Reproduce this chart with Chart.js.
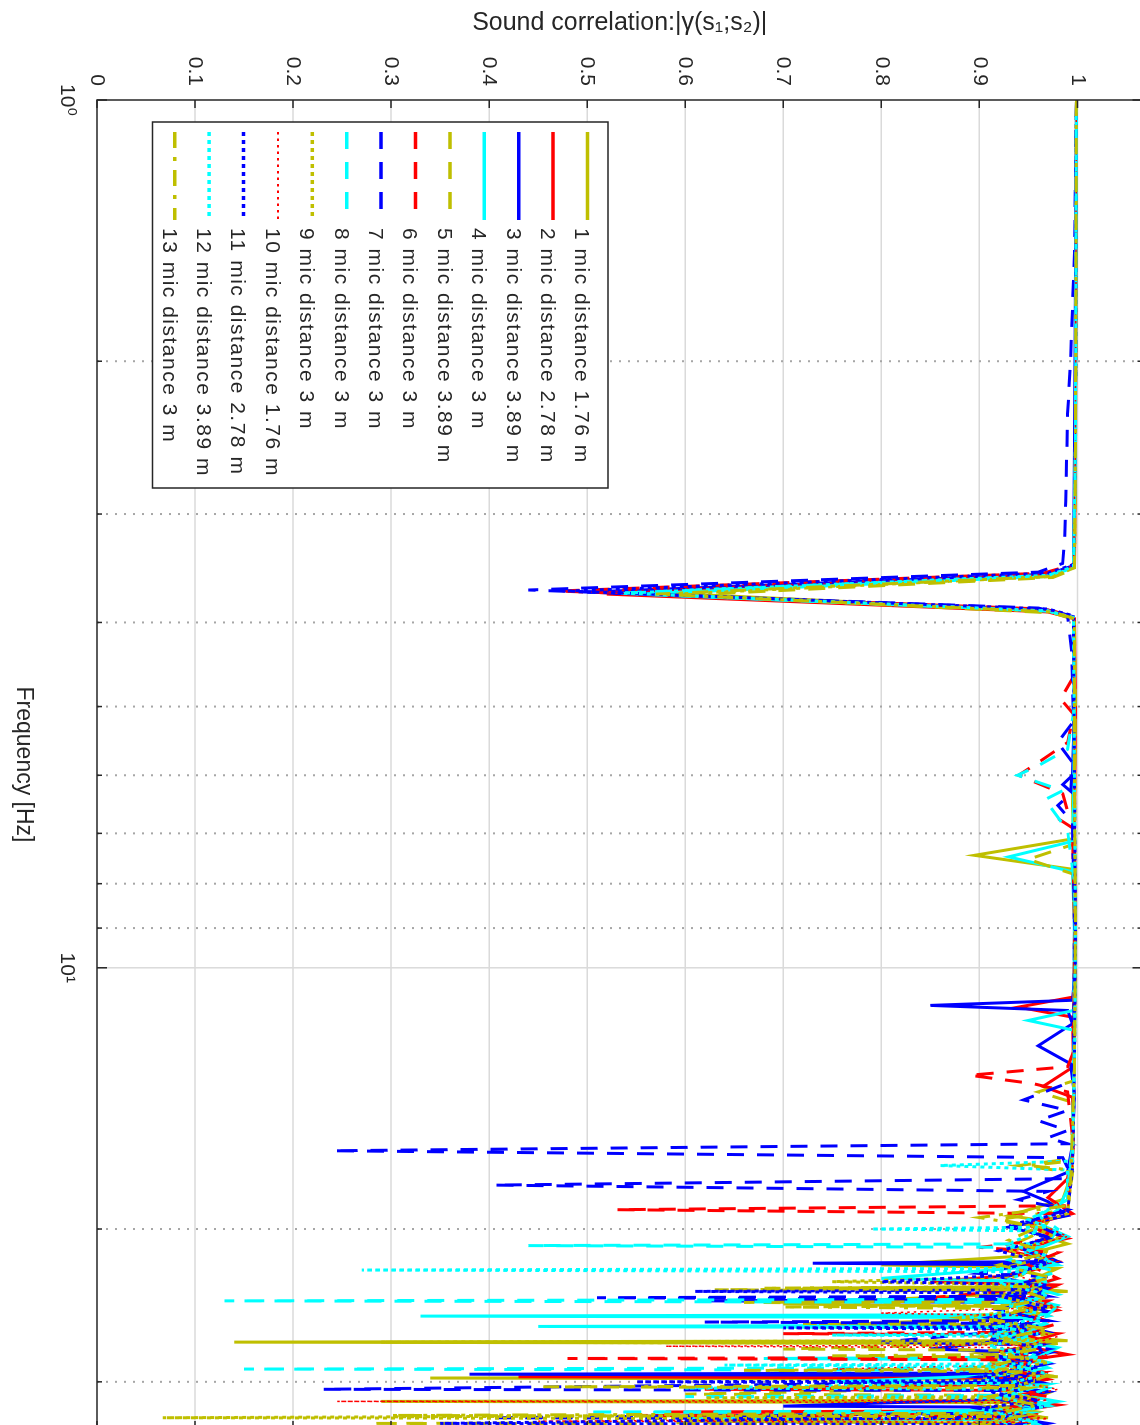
<!DOCTYPE html>
<html>
<head>
<meta charset="utf-8">
<title>Sound correlation</title>
<script src="https://cdn.jsdelivr.net/npm/chart.js@4.4.0/dist/chart.umd.min.js"></script>
<style>
    html, body { margin: 0; padding: 0; background: #fff; overflow: hidden; width: 1140px; height: 1425px; }
    /* the plot is drawn the MATLAB way (frequency across) and turned a quarter clockwise */
    #wrap { position: absolute; left: 0; top: 0; width: 1447px; height: 1169px;
            transform-origin: 0 0; transform: translate(1169px, 0) rotate(90deg); }
</style>
</head>
<body>
<div id="wrap"><canvas id="corrChart" width="1447" height="1169"></canvas></div>
<script>
// Axis ranges and ticks
const freqMin = 1;
const freqMax = 34;
const corrMin = 0;
const corrMax = 1.0663;
const freqMajor = [1, 10];
const freqMinor = [2, 3, 4, 5, 6, 7, 8, 9, 20, 30];
const corrGrid = [0.1, 0.2, 0.3, 0.4, 0.5, 0.6, 0.7, 0.8, 0.9, 1];
const corrTicks = [0, 0.1, 0.2, 0.3, 0.4, 0.5, 0.6, 0.7, 0.8, 0.9, 1];

const seriesLabels = [
    '1 mic distance 1.76 m',
    '2 mic distance 2.78 m',
    '3 mic distance 3.89 m',
    '4 mic distance 3 m',
    '5 mic distance 3.89 m',
    '6 mic distance 3 m',
    '7 mic distance 3 m',
    '8 mic distance 3 m',
    '9 mic distance 3 m',
    '10 mic distance 1.76 m',
    '11 mic distance 2.78 m',
    '12 mic distance 3.89 m',
    '13 mic distance 3 m'
];

// [frequency Hz, |gamma|]
const series1 = [[1,0.999],[2,0.998],[3,0.997],[3.45,0.996],[3.52,0.97],[3.70,0.58],[3.88,0.97],[3.95,0.996],[4.5,0.997],[5.5,0.996],[6.5,0.995],[7.1,0.996],[7.42,0.895],[7.7,0.995],[8.5,0.997],[10,0.998],[12,0.997],[14,0.996],[16,0.995],[17.8,0.99],[18.5,0.985],[19.3,0.93],[19.6,0.97],[20.3,0.96],[20.8,0.99],[21.5,0.94],[22.0,0.80],[22.2,0.98],[23.0,0.95],[23.3,0.97],[23.4,0.72],[23.5,0.97],[23.6,0.99],[24.4,0.70],[24.6,0.97],[25.3,0.93],[25.8,0.75],[26.0,0.96],[26.5,0.92],[26.9,0.99],[27.0,0.14],[27.1,0.98],[27.8,0.9],[28.4,0.96],[29.0,0.88],[29.6,0.98],[29.7,0.34],[29.8,0.97],[30.3,0.92],[30.9,0.97],[31.5,0.95],[31.6,0.29],[31.7,0.96],[32.4,0.9],[33.0,0.97],[33.3,0.6],[33.5,0.95],[34,0.93]];
const series2 = [[1,0.999],[2.5,0.998],[3.45,0.997],[3.53,0.97],[3.71,0.52],[3.89,0.97],[3.96,0.997],[5,0.998],[7,0.997],[9,0.998],[10.8,0.997],[11.1,0.94],[11.4,0.995],[13,0.996],[13.7,0.965],[14.1,0.995],[16,0.996],[17.5,0.99],[18.4,0.97],[19.2,0.995],[19.8,0.95],[20.5,0.99],[21.2,0.93],[21.8,0.98],[22.6,0.94],[23.0,0.85],[23.2,0.98],[24.0,0.95],[24.8,0.98],[25.5,0.92],[26.0,0.90],[26.4,0.98],[27.2,0.94],[27.9,0.99],[28.6,0.92],[29.3,0.97],[29.6,0.43],[29.7,0.96],[30.2,0.94],[30.6,0.62],[30.7,0.97],[31.3,0.92],[31.9,0.98],[32.4,0.94],[32.5,0.58],[32.6,0.96],[33.2,0.9],[34,0.97]];
const series3 = [[1,0.999],[2.5,0.997],[3.44,0.996],[3.52,0.97],[3.69,0.50],[3.87,0.97],[3.94,0.996],[5,0.997],[6.0,0.995],[6.15,0.985],[6.3,0.996],[8,0.997],[10,0.998],[10.9,0.995],[11.05,0.85],[11.2,0.99],[11.6,0.995],[12.3,0.96],[12.9,0.993],[14,0.997],[16,0.995],[17.2,0.99],[18.1,0.945],[18.6,0.97],[19.3,0.99],[19.9,0.93],[20.4,0.97],[21.0,0.95],[21.8,0.98],[21.9,0.73],[22.0,0.97],[22.7,0.92],[23.4,0.97],[24.1,0.95],[24.2,0.62],[24.3,0.94],[24.9,0.97],[25.6,0.93],[26.3,0.97],[27.0,0.91],[27.5,0.85],[27.8,0.97],[28.5,0.93],[29.3,0.96],[29.4,0.38],[29.5,0.95],[30.1,0.91],[30.8,0.97],[31.4,0.93],[32.0,0.70],[32.1,0.96],[32.8,0.92],[33.5,0.97],[34,0.94]];
const series4 = [[1,0.999],[2.5,0.998],[3.46,0.996],[3.54,0.97],[3.71,0.55],[3.88,0.97],[3.95,0.996],[5,0.997],[6.5,0.996],[7.15,0.995],[7.45,0.93],[7.75,0.995],[9,0.997],[11.2,0.996],[11.5,0.95],[11.8,0.996],[14,0.996],[16,0.995],[18,0.99],[19,0.98],[19.7,0.96],[20.4,0.99],[21.3,0.95],[22.0,0.98],[22.8,0.80],[23.0,0.97],[23.8,0.93],[24.5,0.98],[25.1,0.97],[25.2,0.33],[25.3,0.96],[25.8,0.97],[25.9,0.45],[26.0,0.96],[26.7,0.92],[27.4,0.98],[28.1,0.96],[28.2,0.68],[28.3,0.95],[28.9,0.97],[29.5,0.92],[30.0,0.75],[30.2,0.97],[30.9,0.93],[31.6,0.98],[32.3,0.92],[33.0,0.60],[33.2,0.95],[34,0.97]];
const series5 = [[1,0.999],[2.5,0.998],[3.47,0.997],[3.55,0.975],[3.72,0.60],[3.9,0.975],[3.97,0.997],[5,0.998],[7.2,0.997],[7.5,0.95],[7.8,0.996],[10,0.998],[13.5,0.996],[13.9,0.96],[14.3,0.996],[16.6,0.995],[16.9,0.94],[17.2,0.995],[19,0.99],[19.5,0.92],[20.0,0.97],[20.7,0.94],[21.4,0.98],[22.1,0.93],[22.8,0.97],[23.4,0.92],[23.5,0.63],[23.6,0.95],[24.2,0.95],[24.3,0.66],[24.4,0.93],[25.0,0.96],[25.6,0.94],[25.7,0.72],[25.8,0.93],[26.4,0.97],[27.1,0.92],[27.5,0.70],[27.6,0.96],[28.3,0.9],[29.0,0.96],[29.7,0.91],[30.4,0.97],[31.0,0.60],[31.1,0.95],[31.8,0.9],[32.5,0.96],[33.4,0.93],[33.5,0.28],[33.6,0.94],[34,0.96]];
const series6 = [[1,0.999],[2.5,0.998],[3.43,0.996],[3.51,0.965],[3.68,0.47],[3.86,0.965],[3.93,0.996],[4.6,0.997],[4.9,0.983],[5.1,0.996],[5.5,0.99],[5.75,0.965],[6.0,0.94],[6.3,0.985],[6.6,0.99],[6.75,0.982],[6.9,0.995],[9,0.997],[12.5,0.996],[13.0,0.99],[13.3,0.89],[13.6,0.955],[13.9,0.99],[16,0.996],[18.8,0.99],[19.0,0.53],[19.2,0.98],[19.8,0.95],[20.5,0.98],[21.0,0.90],[21.3,0.98],[22.0,0.95],[22.8,0.98],[23.5,0.94],[24.0,0.85],[24.2,0.97],[25.0,0.94],[25.7,0.98],[26.3,0.95],[26.4,0.70],[26.5,0.95],[27.1,0.97],[27.7,0.92],[28.1,0.97],[28.2,0.48],[28.3,0.96],[29.0,0.93],[29.8,0.97],[30.5,0.92],[31.2,0.97],[31.9,0.93],[32.7,0.96],[32.8,0.55],[32.9,0.95],[33.6,0.92],[34,0.97]];
const series7 = [[1,0.999],[1.5,0.997],[2.0,0.993],[2.3,0.99],[2.6,0.989],[2.9,0.988],[3.2,0.987],[3.42,0.985],[3.50,0.96],[3.67,0.44],[3.85,0.96],[3.92,0.99],[4.3,0.994],[5.2,0.996],[5.5,0.98],[5.8,0.995],[6.3,0.993],[6.5,0.98],[6.8,0.995],[9,0.997],[13.5,0.996],[14.2,0.945],[14.6,0.99],[15.0,0.96],[15.4,0.99],[15.7,0.97],[15.95,0.99],[16.25,0.24],[16.55,0.985],[17.0,0.99],[17.5,0.985],[17.8,0.405],[18.1,0.97],[18.5,0.94],[19.0,0.99],[19.6,0.95],[20.3,0.98],[21.0,0.94],[21.7,0.97],[22.5,0.90],[22.7,0.97],[23.3,0.93],[23.9,0.97],[24.0,0.51],[24.1,0.96],[24.8,0.92],[25.5,0.97],[25.6,0.62],[25.7,0.95],[26.2,0.93],[27.0,0.80],[27.2,0.96],[27.9,0.91],[28.6,0.97],[29.3,0.92],[30.0,0.96],[30.6,0.23],[30.7,0.95],[31.3,0.91],[32.0,0.96],[32.6,0.92],[33.0,0.40],[33.1,0.95],[34,0.93]];
const series8 = [[1,0.999],[2.5,0.998],[3.45,0.996],[3.53,0.97],[3.70,0.53],[3.88,0.97],[3.95,0.996],[5,0.997],[5.6,0.99],[5.85,0.96],[6.0,0.939],[6.25,0.985],[6.4,0.967],[6.95,0.99],[8,0.997],[10,0.998],[14,0.996],[17,0.994],[18.5,0.99],[19.3,0.96],[20.0,0.98],[20.8,0.97],[20.9,0.44],[21.0,0.96],[21.7,0.93],[22.4,0.98],[23.1,0.94],[23.8,0.98],[24.1,0.96],[24.2,0.13],[24.3,0.95],[25.0,0.92],[25.7,0.97],[26.4,0.91],[27.1,0.97],[27.8,0.93],[28.5,0.97],[28.9,0.95],[29.0,0.15],[29.1,0.94],[29.8,0.91],[30.5,0.97],[31.1,0.95],[31.2,0.60],[31.3,0.95],[31.9,0.97],[32.4,0.94],[32.5,0.50],[32.6,0.95],[33.3,0.91],[34,0.97]];
const series9 = [[1,0.999],[2.5,0.998],[3.46,0.997],[3.54,0.975],[3.71,0.59],[3.89,0.975],[3.96,0.997],[6,0.997],[9,0.998],[13,0.997],[17,0.995],[19.2,0.99],[19.8,0.95],[20.5,0.98],[21.2,0.93],[21.9,0.97],[22.7,0.94],[23.0,0.75],[23.2,0.96],[23.9,0.92],[24.6,0.97],[25.3,0.88],[26.0,0.96],[26.6,0.9],[26.9,0.97],[27.0,0.29],[27.1,0.96],[27.8,0.92],[28.5,0.97],[29.2,0.91],[29.9,0.96],[30.6,0.92],[31.2,0.95],[31.3,0.62],[31.4,0.95],[32.0,0.91],[32.7,0.95],[33.0,0.067],[33.1,0.94],[33.7,0.9],[34,0.95]];
const series10 = [[1,0.999],[2.5,0.998],[3.44,0.996],[3.52,0.97],[3.69,0.50],[3.87,0.97],[3.94,0.996],[6,0.997],[9,0.998],[13,0.997],[17,0.995],[19,0.99],[19.7,0.96],[20.4,0.99],[21.1,0.94],[21.8,0.98],[22.5,0.93],[23.2,0.97],[23.9,0.94],[24.6,0.98],[25.0,0.80],[25.2,0.97],[25.9,0.93],[26.6,0.98],[27.2,0.95],[27.3,0.58],[27.4,0.95],[28.0,0.97],[28.7,0.93],[29.0,0.75],[29.2,0.97],[29.9,0.93],[30.6,0.98],[31.3,0.94],[31.5,0.97],[31.6,0.245],[31.7,0.96],[32.4,0.92],[33.1,0.97],[33.3,0.45],[33.4,0.95],[33.7,0.92],[34,0.97]];
const series11 = [[1,0.999],[2.5,0.998],[3.43,0.996],[3.51,0.97],[3.68,0.48],[3.86,0.97],[3.93,0.996],[6,0.997],[9,0.998],[13,0.997],[17,0.995],[19.1,0.99],[19.8,0.93],[20.5,0.97],[21.2,0.92],[21.9,0.97],[22.6,0.93],[23.0,0.80],[23.2,0.97],[23.5,0.96],[23.6,0.61],[23.7,0.95],[23.9,0.92],[24.6,0.97],[25.3,0.91],[25.9,0.96],[26.0,0.70],[26.1,0.95],[26.8,0.91],[27.5,0.97],[28.2,0.92],[28.9,0.96],[29.6,0.9],[29.9,0.96],[30.0,0.55],[30.1,0.95],[30.8,0.91],[31.5,0.96],[32.2,0.9],[32.9,0.95],[33.5,0.35],[33.6,0.94],[34,0.92]];
const series12 = [[1,0.999],[2.5,0.998],[3.45,0.996],[3.53,0.97],[3.70,0.54],[3.88,0.97],[3.95,0.996],[6,0.997],[9,0.998],[13,0.997],[16.7,0.995],[16.9,0.86],[17.1,0.99],[18.5,0.99],[19.5,0.95],[19.9,0.97],[20.0,0.79],[20.1,0.96],[20.8,0.93],[21.5,0.97],[22.2,0.96],[22.3,0.27],[22.4,0.95],[23.1,0.92],[23.8,0.97],[24.5,0.93],[25.2,0.97],[25.9,0.92],[26.4,0.96],[26.5,0.75],[26.6,0.95],[27.3,0.91],[28.0,0.96],[28.6,0.95],[28.7,0.64],[28.8,0.94],[29.4,0.97],[30.1,0.93],[30.5,0.60],[30.6,0.95],[31.3,0.92],[32.0,0.97],[32.7,0.92],[33.4,0.96],[34,0.93]];
const series13 = [[1,0.999],[2.5,0.998],[3.46,0.997],[3.54,0.975],[3.71,0.57],[3.89,0.975],[3.96,0.997],[6,0.997],[9,0.998],[13,0.997],[16.7,0.994],[16.9,0.95],[17.1,0.994],[18.8,0.99],[19.4,0.90],[19.9,0.96],[20.6,0.93],[21.3,0.97],[22.0,0.92],[22.7,0.97],[23.3,0.95],[23.4,0.68],[23.5,0.94],[24.1,0.97],[24.5,0.93],[24.6,0.70],[24.7,0.95],[25.4,0.91],[26.1,0.97],[26.8,0.92],[27.5,0.96],[27.9,0.93],[28.0,0.75],[28.1,0.95],[28.8,0.91],[29.0,0.93],[29.1,0.66],[29.2,0.94],[29.5,0.97],[30.3,0.94],[30.4,0.455],[30.5,0.95],[31.2,0.91],[31.9,0.96],[32.6,0.92],[32.8,0.30],[32.9,0.94],[33.6,0.9],[34,0.95]];

const allSeries = [series1, series2, series3, series4, series5, series6, series7,
                   series8, series9, series10, series11, series12, series13];

// Line styles (MATLAB default colour order for this figure)
const seriesColors = ['#bfbf00', '#ff0000', '#0000ff', '#00ffff',
                      '#bfbf00', '#ff0000', '#0000ff', '#00ffff',
                      '#bfbf00', '#ff0000', '#0000ff', '#00ffff', '#bfbf00'];
const seriesStyles = ['solid', 'solid', 'solid', 'solid', 'dash', 'dash', 'dash', 'dash',
                      'dot', 'thindot', 'dot', 'dot', 'dashdot'];
const dashPatterns = { solid: [], dash: [17, 13], dot: [4, 4], thindot: [2.5, 4], dashdot: [16, 9, 4, 9] };

const FONT = "'Liberation Sans', Arial, 'DejaVu Sans', sans-serif";
const TEXT = '#262626';

// Grid in the MATLAB look: solid light lines for the correlation, dotted for minor frequencies
const matlabGrid = {
    id: 'matlabGrid',
    beforeDatasetsDraw(chart) {
        const { ctx, chartArea: a, scales: { x, y } } = chart;
        ctx.save();
        ctx.lineWidth = 1.5;
        ctx.strokeStyle = '#dadada';
        corrGrid.forEach(v => {
            const py = y.getPixelForValue(v);
            ctx.beginPath();
            ctx.moveTo(a.left, py);
            ctx.lineTo(a.right, py);
            ctx.stroke();
        });
        freqMajor.slice(1).forEach(f => {
            const px = x.getPixelForValue(f);
            ctx.beginPath();
            ctx.moveTo(px, a.top);
            ctx.lineTo(px, a.bottom);
            ctx.stroke();
        });
        ctx.lineWidth = 2;
        ctx.strokeStyle = '#a6a6a6';
        ctx.setLineDash([2, 7]);
        freqMinor.forEach(f => {
            const px = x.getPixelForValue(f);
            ctx.beginPath();
            ctx.moveTo(px, a.bottom);
            ctx.lineTo(px, a.top);
            ctx.stroke();
        });
        ctx.restore();
    },
    afterDatasetsDraw(chart) {
        const { ctx, chartArea: a, scales: { x, y } } = chart;
        ctx.save();
        ctx.strokeStyle = TEXT;
        ctx.lineWidth = 1.5;
        ctx.strokeRect(a.left, a.top, a.right - a.left, a.bottom - a.top);
        ctx.beginPath();
        corrTicks.forEach(v => {
            const py = y.getPixelForValue(v);
            ctx.moveTo(a.left, py); ctx.lineTo(a.left + 8, py);
            ctx.moveTo(a.right, py); ctx.lineTo(a.right - 8, py);
        });
        freqMajor.forEach(f => {
            const px = x.getPixelForValue(f);
            ctx.moveTo(px, a.bottom); ctx.lineTo(px, a.bottom - 10);
            ctx.moveTo(px, a.top); ctx.lineTo(px, a.top + 10);
        });
        freqMinor.forEach(f => {
            const px = x.getPixelForValue(f);
            ctx.moveTo(px, a.bottom); ctx.lineTo(px, a.bottom - 5);
            ctx.moveTo(px, a.top); ctx.lineTo(px, a.top + 5);
        });
        ctx.stroke();
        ctx.restore();
    }
};

// Legend box in the lower left of the (unturned) axes
const legendBox = {
    id: 'legendBox',
    afterDraw(chart) {
        const ctx = chart.ctx;
        const base = chart.chartArea.bottom;
        const left = 122, right = 488, top = base - 511, bottom = base - 55.5;
        ctx.save();
        ctx.fillStyle = '#fff';
        ctx.fillRect(left, top, right - left, bottom - top);
        ctx.strokeStyle = TEXT;
        ctx.lineWidth = 1.5;
        ctx.strokeRect(left, top, right - left, bottom - top);
        chart.data.datasets.forEach((ds, i) => {
            const ly = base - 490.5 + i * 34.4;
            ctx.beginPath();
            ctx.setLineDash(ds.borderDash);
            ctx.lineWidth = ds.borderWidth + 0.5;
            ctx.strokeStyle = ds.borderColor;
            ctx.moveTo(132, ly);
            ctx.lineTo(220, ly);
            ctx.stroke();
            ctx.setLineDash([]);
            ctx.fillStyle = TEXT;
            ctx.font = '21px ' + FONT;
            ctx.letterSpacing = '1.5px';
            ctx.textAlign = 'left';
            ctx.textBaseline = 'alphabetic';
            ctx.fillText(ds.label, 228, ly + 12);
        });
        ctx.restore();
    }
};

const datasets = allSeries.map((pts, i) => ({
    label: seriesLabels[i],
    data: pts.map(p => ({ x: p[0], y: p[1] })),
    showLine: true,
    borderColor: seriesColors[i],
    backgroundColor: seriesColors[i],
    borderWidth: seriesStyles[i] === 'thindot' ? 1.5 : 3,
    borderDash: dashPatterns[seriesStyles[i]],
    pointRadius: 0,
    tension: 0,
    fill: false,
    order: allSeries.length - i
}));

const ctx = document.getElementById('corrChart').getContext('2d');
const corrChart = new Chart(ctx, {
    type: 'scatter',
    data: { datasets: datasets },
    options: {
        responsive: false,
        animation: false,
        devicePixelRatio: 1,
        events: [],
        layout: { padding: { top: 5, right: 12.2, left: 0, bottom: 0 } },
        plugins: {
            legend: { display: false },
            tooltip: { enabled: false }
        },
        scales: {
            x: {
                type: 'logarithmic',
                min: freqMin,
                max: freqMax,
                grid: { display: false, drawTicks: false },
                border: { display: false },
                afterFit: scale => { scale.height = 97; },
                ticks: {
                    autoSkip: false,
                    maxRotation: 0,
                    minRotation: 0,
                    padding: 18,
                    color: TEXT,
                    font: { family: FONT, size: 21 },
                    callback: v => (v === 1 ? '10\u2070' : (v === 10 ? '10\u00b9' : ''))
                },
                title: {
                    display: true,
                    text: 'Frequency [Hz]',
                    color: TEXT,
                    font: { family: FONT, size: 23 },
                    padding: { top: 0, bottom: 10 }
                }
            },
            y: {
                type: 'linear',
                min: corrMin,
                max: corrMax,
                grid: { display: false, drawTicks: false },
                border: { display: false },
                afterFit: scale => { scale.width = 100; },
                ticks: {
                    stepSize: 0.1,
                    padding: 14,
                    color: TEXT,
                    font: { family: FONT, size: 21 },
                    callback: v => (v > 1.0001 ? '' : String(Math.round(v * 10) / 10))
                },
                title: {
                    display: true,
                    text: 'Sound correlation:|\u03b3(s\u2081;s\u2082)|',
                    color: TEXT,
                    font: { family: FONT, size: 25 },
                    padding: { top: 8, bottom: 0 }
                }
            }
        }
    },
    plugins: [matlabGrid, legendBox]
});
</script>
</body>
</html>
